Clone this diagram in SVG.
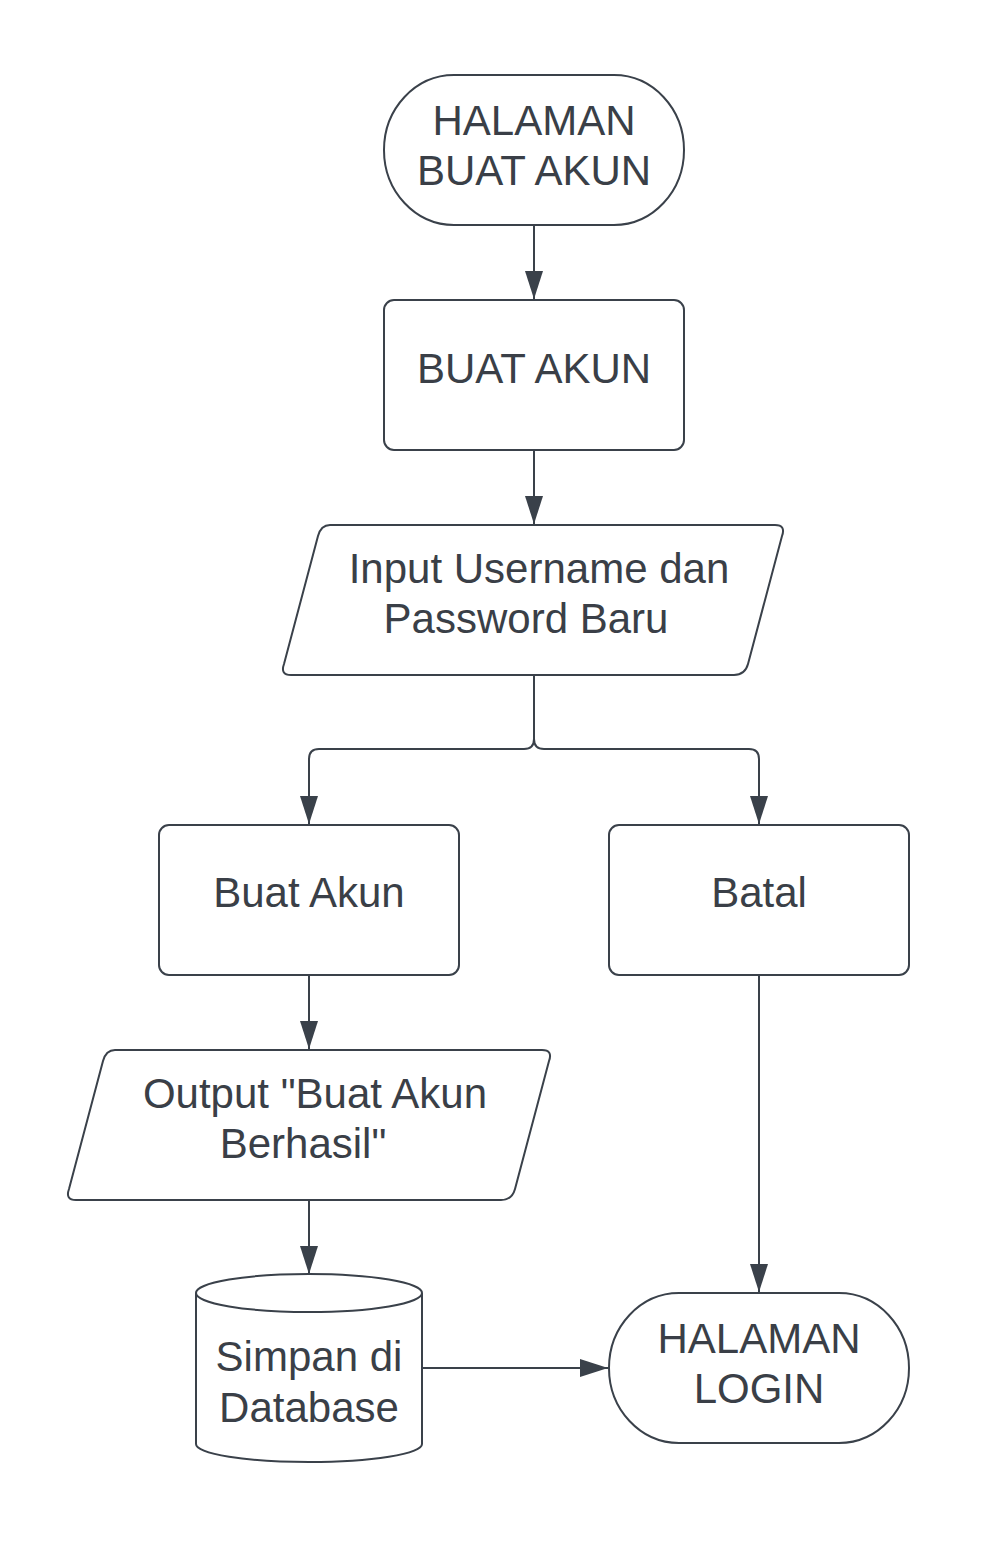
<svg xmlns="http://www.w3.org/2000/svg" width="984" height="1555" viewBox="0 0 984 1555">
<style>
.s{fill:#ffffff;stroke:#3a414a;stroke-width:2}
.t{font-family:"Liberation Sans",Arial,sans-serif;font-size:42px;fill:#3a3f47;text-anchor:middle}
.c{fill:none;stroke:#3a414a;stroke-width:2}
</style>
<defs>
<marker id="ah" markerUnits="userSpaceOnUse" markerWidth="28" markerHeight="18" refX="28" refY="9" orient="auto">
<path d="M0,0 L28,9 L0,18 z" fill="#3a414a"/>
</marker>
</defs>
<rect width="984" height="1555" fill="#ffffff"/>
<g id="connectors">
<path class="c" d="M534 225 V299" marker-end="url(#ah)"/>
<path class="c" d="M534 450 V524" marker-end="url(#ah)"/>
<path class="c" d="M534 675 V739 Q534 749 524 749 H319 Q309 749 309 759 V824" marker-end="url(#ah)"/>
<path class="c" d="M534 739 Q534 749 544 749 H749 Q759 749 759 759 V824" marker-end="url(#ah)"/>
<path class="c" d="M309 975 V1049" marker-end="url(#ah)"/>
<path class="c" d="M309 1200 V1274" marker-end="url(#ah)"/>
<path class="c" d="M759 975 V1292" marker-end="url(#ah)"/>
<path class="c" d="M422 1368 H608" marker-end="url(#ah)"/>
</g>
<g id="start">
<rect class="s" x="384" y="75" width="300" height="150" rx="70" ry="75"/>
<text class="t" x="534" y="135">HALAMAN</text>
<text class="t" x="534" y="185">BUAT AKUN</text>
</g>
<g id="buat-akun-1">
<rect class="s" x="384" y="300" width="300" height="150" rx="10"/>
<text class="t" x="534" y="383">BUAT AKUN</text>
</g>
<g id="input">
<path class="s" d="M330 525 H775 Q786 525 782 536 L748 664 Q745 675 734 675 H291 Q280 675 284 664 L318 536 Q321 525 330 525 Z"/>
<text class="t" x="539" y="583">Input Username dan</text>
<text class="t" x="526" y="633">Password Baru</text>
</g>
<g id="buat-akun-2">
<rect class="s" x="159" y="825" width="300" height="150" rx="10"/>
<text class="t" x="309" y="907">Buat Akun</text>
</g>
<g id="batal">
<rect class="s" x="609" y="825" width="300" height="150" rx="10"/>
<text class="t" x="759" y="907">Batal</text>
</g>
<g id="output">
<path class="s" d="M115 1050 H542 Q553 1050 549 1061 L515 1189 Q512 1200 501 1200 H76 Q65 1200 69 1189 L103 1061 Q106 1050 115 1050 Z"/>
<text class="t" x="315" y="1108">Output "Buat Akun</text>
<text class="t" x="303" y="1158">Berhasil"</text>
</g>
<g id="database">
<path class="s" d="M196 1293 A113 19 0 0 1 422 1293 V1444 A113 18 0 0 1 196 1444 Z"/>
<path class="c" d="M196 1293 A113 19 0 0 0 422 1293"/>
<text class="t" x="309" y="1371">Simpan di</text>
<text class="t" x="309" y="1422">Database</text>
</g>
<g id="login">
<rect class="s" x="609" y="1293" width="300" height="150" rx="70" ry="75"/>
<text class="t" x="759" y="1353">HALAMAN</text>
<text class="t" x="759" y="1403">LOGIN</text>
</g>
</svg>
